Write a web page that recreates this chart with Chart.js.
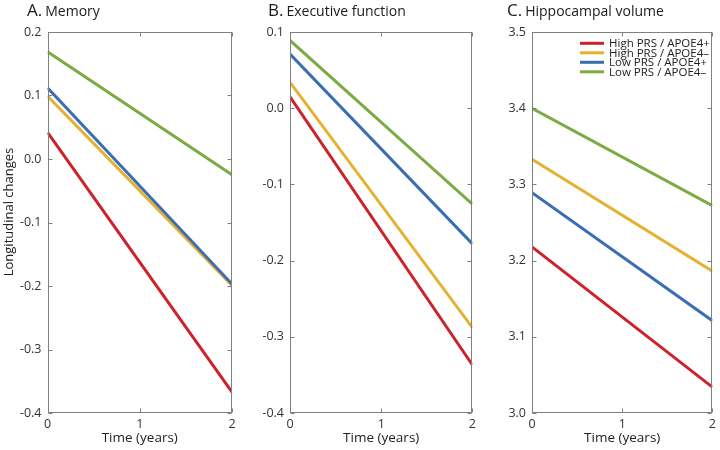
<!DOCTYPE html>
<html><head><meta charset="utf-8">
<script src="https://cdn.jsdelivr.net/npm/chart.js@4/dist/chart.umd.min.js"></script>
<style>
html,body{margin:0;padding:0;background:#fff;}
#wrap{position:relative;width:720px;height:450px;overflow:hidden;}
canvas{position:absolute;top:0;}
</style></head><body>
<div id="wrap">
<canvas id="cA" width="240" height="450" style="left:0px"></canvas>
<canvas id="cB" width="240" height="450" style="left:240px"></canvas>
<canvas id="cC" width="240" height="450" style="left:480px"></canvas>
</div>
<script>
// ---- data ----
const timeYears = [0, 2];
const seriesLabels = ['High PRS / APOE4+', 'High PRS / APOE4\u2013', 'Low PRS / APOE4+', 'Low PRS / APOE4\u2013'];
const seriesColors = ['#cc2229', '#e4b231', '#3b6db4', '#7bab42'];

const memoryHighPos = [0.042, -0.367];
const memoryHighNeg = [0.099, -0.199];
const memoryLowPos  = [0.112, -0.197];
const memoryLowNeg  = [0.169, -0.025];

const execHighPos = [0.015, -0.337];
const execHighNeg = [0.034, -0.288];
const execLowPos  = [0.071, -0.178];
const execLowNeg  = [0.089, -0.126];

const hippoHighPos = [3.218, 3.034];
const hippoHighNeg = [3.333, 3.186];
const hippoLowPos  = [3.289, 3.121];
const hippoLowNeg  = [3.400, 3.272];

const xTicks = [0, 1, 2];
const memoryRange = [-0.4, 0.2];
const execRange = [-0.4, 0.1];
const hippoRange = [3.0, 3.5];

const FONT = "'Open Sans', 'Noto Sans', sans-serif";

function makeDatasets(series) {
  return series.map((vals, i) => ({
    label: seriesLabels[i],
    data: timeYears.map((t, j) => ({x: t, y: vals[j]})),
    borderColor: seriesColors[i],
    backgroundColor: seriesColors[i],
    borderWidth: 3,
    pointRadius: 0,
    tension: 0,
    fill: false,
    order: 4 - i
  }));
}

const panelPlugin = {
  id: 'panelPlugin',
  afterDatasetsDraw(chart, args, opts) {
    const ctx = chart.ctx;
    const a = chart.chartArea;
    const xs = chart.scales.x, ys = chart.scales.y;
    ctx.save();
    ctx.strokeStyle = '#808080';
    ctx.lineWidth = 1;
    const L = Math.round(a.left) + 0.5, R = Math.round(a.right) - 0.5;
    const T = Math.round(a.top) + 0.5, B = Math.round(a.bottom) - 0.5;
    ctx.strokeRect(L, T, R - L, B - T);
    ctx.beginPath();
    ys.ticks.forEach(t => {
      const y = Math.round(ys.getPixelForValue(t.value)) + 0.5;
      ctx.moveTo(L, y); ctx.lineTo(L + 4, y);
      ctx.moveTo(R, y); ctx.lineTo(R - 4, y);
    });
    xs.ticks.forEach(t => {
      const x = Math.round(xs.getPixelForValue(t.value)) + 0.5;
      ctx.moveTo(x, B); ctx.lineTo(x, B - 4);
      ctx.moveTo(x, T); ctx.lineTo(x, T + 4);
    });
    ctx.stroke();
    ctx.restore();
  },
  afterDraw(chart, args, opts) {
    const ctx = chart.ctx;
    ctx.save();
    ctx.fillStyle = '#1a1a1a';
    ctx.textBaseline = 'alphabetic';
    ctx.textAlign = 'left';
    ctx.font = '17px ' + FONT;
    ctx.fillText(opts.letter, opts.titleX, 16);
    const w = ctx.measureText(opts.letter).width;
    ctx.font = '14px ' + FONT;
    ctx.fillText(opts.title, opts.titleX + w + 3, 16);
    if (opts.yTitle) {
      ctx.save();
      ctx.translate(9, 212);
      ctx.rotate(-Math.PI / 2);
      ctx.font = '13px ' + FONT;
      ctx.textAlign = 'center';
      ctx.textBaseline = 'middle';
      ctx.fillStyle = '#222';
      ctx.fillText(opts.yTitle, 0, 0);
      ctx.restore();
    }
    if (opts.legend) {
      ctx.font = '11.5px ' + FONT;
      ctx.textBaseline = 'middle';
      ctx.textAlign = 'left';
      chart.data.datasets.forEach((ds, i) => {
        const y = 43.3 + i * 9.5;
        ctx.strokeStyle = ds.borderColor;
        ctx.lineWidth = 3;
        ctx.beginPath();
        ctx.moveTo(opts.legend.x, y);
        ctx.lineTo(opts.legend.x + 24, y);
        ctx.stroke();
        ctx.fillStyle = '#222';
        ctx.fillText(ds.label, opts.legend.x + 29, y + 0.5);
      });
    }
    ctx.restore();
  }
};

function makeChart(id, series, range, yWidth, padRight, popts) {
  return new Chart(document.getElementById(id), {
    type: 'line',
    data: { datasets: makeDatasets(series) },
    plugins: [panelPlugin],
    options: {
      responsive: false,
      animation: false,
      events: [],
      layout: { padding: { top: 32, right: padRight, left: 0, bottom: 0 } },
      plugins: {
        legend: { display: false },
        tooltip: { enabled: false },
        title: { display: false },
        panelPlugin: popts
      },
      scales: {
        x: {
          type: 'linear',
          min: xTicks[0], max: xTicks[xTicks.length - 1],
          afterBuildTicks: s => { s.ticks = xTicks.map(v => ({value: v})); },
          ticks: { color: '#333', font: { family: FONT, size: 12.5 }, padding: 4, callback: v => String(v) },
          grid: { display: false, drawTicks: false },
          border: { display: false },
          title: { display: true, text: 'Time (years)', color: '#222', font: { family: FONT, size: 13.5 }, padding: { top: 0, bottom: 4 } },
          afterFit: s => { s.height = 37; }
        },
        y: {
          type: 'linear',
          min: range[0], max: range[1],
          ticks: { stepSize: 0.1, color: '#333', font: { family: FONT, size: 12.5 }, padding: 6,
                   callback: v => (Math.abs(v) < 1e-9 ? 0 : v).toFixed(1) },
          grid: { display: false, drawTicks: false },
          border: { display: false },
          afterFit: s => { s.width = yWidth; }
        }
      }
    }
  });
}

makeChart('cA', [memoryHighPos, memoryHighNeg, memoryLowPos, memoryLowNeg], memoryRange, 47.5, 8,
  { letter: 'A.', title: 'Memory', titleX: 27, yTitle: 'Longitudinal changes' });
makeChart('cB', [execHighPos, execHighNeg, execLowPos, execLowNeg], execRange, 50, 7,
  { letter: 'B.', title: 'Executive function', titleX: 28 });
makeChart('cC', [hippoHighPos, hippoHighNeg, hippoLowPos, hippoLowNeg], hippoRange, 52, 5,
  { letter: 'C.', title: 'Hippocampal volume', titleX: 27, legend: { x: 100 } });
</script>
</body></html>
